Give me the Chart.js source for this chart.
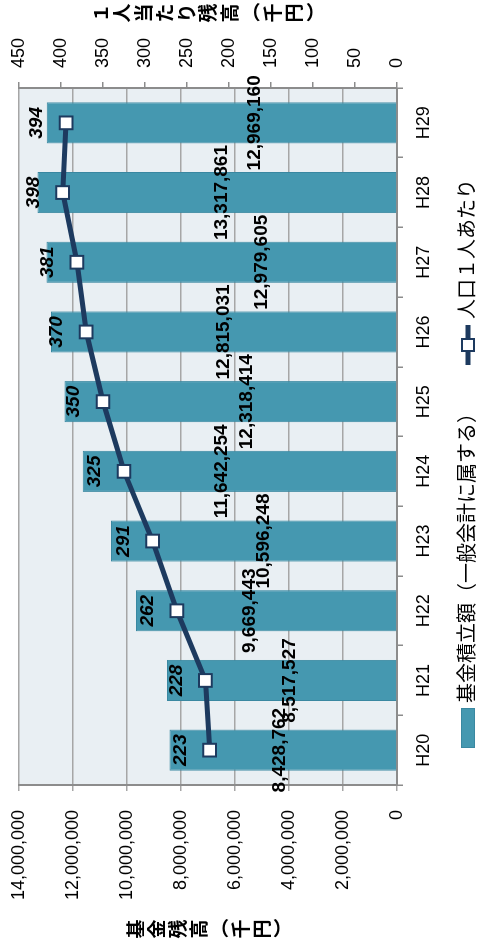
<!DOCTYPE html>
<html>
<head>
<meta charset="utf-8">
<script src="https://cdn.jsdelivr.net/npm/chart.js@4/dist/chart.umd.min.js"></script>
<style>
html, body { margin: 0; padding: 0; background: #fff; overflow: hidden; }
#wrap {
  position: absolute; left: 0; top: 0;
  width: 949px; height: 479px;
  transform-origin: 0 0;
  transform: translateY(949px) rotate(-90deg);
}
</style>
</head>
<body>
<div id="wrap"><canvas id="myChart" width="949" height="479"></canvas></div>
<script>
// data (千円)
var years = ['H20', 'H21', 'H22', 'H23', 'H24', 'H25', 'H26', 'H27', 'H28', 'H29'];
var fundBalance = [8428762, 8517527, 9669443, 10596248, 11642254, 12318414, 12815031, 12979605, 13317861, 12969160];
var perCapita = [223, 228, 262, 291, 325, 350, 370, 381, 398, 394];
// where the balance labels sit on the left axis (they were moved by hand in the original)
var balanceLabelAt = [4350000, 3980000, 5440000, 4930000, 6480000, 5560000, 6410000, 5000000, 6500000, 5260000];

var leftTitle = '基金残高（千円）';
var rightTitle = '１人当たり残高（千円）';

var BAR = '#4598b0';
var BAR_EDGE = '#3a88a1';
var NAVY = '#1d3a5f';
var LATIN = "'Liberation Sans', Arial, sans-serif";
var CJK = "'Noto Sans CJK JP', 'Noto Sans', sans-serif";

Chart.defaults.font.family = LATIN;
Chart.defaults.color = '#000';

function fmt(v) { return v.toLocaleString('en-US'); }

var plotBg = {
  id: 'plotBg',
  beforeDraw: function (chart) {
    var a = chart.chartArea, c = chart.ctx;
    c.save();
    c.fillStyle = '#e9eff3';
    c.fillRect(a.left, a.top, a.right - a.left, a.bottom - a.top);
    c.restore();
  }
};

function stacked(c, text, cx, cy, step) {
  var chars = Array.from(text);
  var start = cy - step * chars.length / 2 + step / 2;
  chars.forEach(function (ch, i) {
    c.save();
    c.translate(cx, start + i * step);
    if ('（）'.indexOf(ch) >= 0) c.rotate(Math.PI / 2);
    c.fillText(ch, 0, 0);
    c.restore();
  });
}

var extras = {
  id: 'extras',
  afterDatasetsDraw: function (chart) {
    var c = chart.ctx;
    var xs = chart.scales.x, ys = chart.scales.y;
    c.save();
    c.fillStyle = '#000';
    c.textAlign = 'center';
    c.textBaseline = 'middle';
    // bar values
    c.font = 'bold 19px ' + LATIN;
    fundBalance.forEach(function (v, i) {
      c.fillText(fmt(v), xs.getPixelForValue(i), ys.getPixelForValue(balanceLabelAt[i]));
    });
    // per-capita values above the points
    c.font = 'italic bold 19px ' + LATIN;
    var pts = chart.getDatasetMeta(0).data;
    pts.forEach(function (p, i) {
      c.fillText(String(perCapita[i]), p.x, p.y - 29);
    });
    c.restore();
  },
  afterDraw: function (chart) {
    var c = chart.ctx, a = chart.chartArea;
    var mid = (a.top + a.bottom) / 2;
    c.save();
    c.fillStyle = '#000';
    c.textAlign = 'center';
    c.textBaseline = 'middle';
    c.font = 'bold 19px ' + CJK;
    stacked(c, leftTitle, 20, mid + 1, 21);
    stacked(c, rightTitle, 936, mid, 21.5);

    // legend
    var labels = [chart.data.datasets[1].label, chart.data.datasets[0].label];
    c.font = '20px ' + CJK;
    var w1 = c.measureText(labels[0]).width, w2 = c.measureText(labels[1]).width;
    var total = 40 + 5 + w1 + 38 + 40 + 6 + w2;
    var x = chart.width / 2 + 11 - total / 2;
    var y = chart.height - 11;
    c.fillStyle = BAR;
    c.fillRect(x, y - 7, 40, 14);
    c.strokeStyle = BAR_EDGE;
    c.lineWidth = 1;
    c.strokeRect(x + 0.5, y - 6.5, 39, 13);
    c.fillStyle = '#000';
    c.textAlign = 'left';
    c.fillText(labels[0], x + 45, y - 2);
    x += 45 + w1 + 38;
    c.strokeStyle = NAVY;
    c.lineWidth = 5;
    c.beginPath();
    c.moveTo(x, y);
    c.lineTo(x + 40, y);
    c.stroke();
    c.fillStyle = '#fff';
    c.lineWidth = 2;
    c.fillRect(x + 14, y - 6, 12, 12);
    c.strokeRect(x + 14, y - 6, 12, 12);
    c.fillStyle = '#000';
    c.fillText(labels[1], x + 46, y - 2);
    c.restore();
  }
};

// vertical axes: fixed width, and no extra room above/below the plot for the tick padding
function fixAxis(width) {
  return function (s) {
    s.width = width;
    s.paddingTop = 0;
    s.paddingBottom = 0;
  };
}

var ctx = document.getElementById('myChart').getContext('2d');
var myChart = new Chart(ctx, {
  data: {
    labels: years,
    datasets: [{
      type: 'line',
      label: '人口１人あたり',
      data: perCapita,
      yAxisID: 'y2',
      order: 0,
      borderColor: NAVY,
      borderWidth: 5,
      tension: 0,
      pointStyle: 'rect',
      pointRadius: 9,
      pointBackgroundColor: '#fff',
      pointBorderColor: NAVY,
      pointBorderWidth: 2
    }, {
      type: 'bar',
      label: '基金積立額（一般会計に属する）',
      data: fundBalance,
      yAxisID: 'y',
      order: 1,
      backgroundColor: BAR,
      borderColor: BAR_EDGE,
      borderWidth: 1,
      barPercentage: 0.59,
      categoryPercentage: 1
    }]
  },
  options: {
    responsive: false,
    animation: false,
    devicePixelRatio: 1,
    layout: { padding: { top: 19, bottom: 40, left: 0, right: 0 } },
    plugins: {
      legend: { display: false },
      tooltip: { enabled: false }
    },
    scales: {
      x: {
        grid: { drawOnChartArea: false, drawTicks: true, tickLength: 6, color: '#8c8c8c', lineWidth: 1.5 },
        border: { color: '#8c8c8c', width: 2 },
        ticks: { font: { size: 18 }, padding: 10, maxRotation: 0, autoSkip: false },
        afterFit: function (s) { s.height = 42; }
      },
      y: {
        position: 'left',
        min: 0,
        max: 14000000,
        ticks: { stepSize: 2000000, padding: 19, font: { size: 18 }, callback: function (v) { return fmt(v); } },
        grid: { color: '#a6a6a6', lineWidth: 1.5, tickLength: 6 },
        border: { color: '#8c8c8c', width: 2 },
        afterFit: fixAxis(164)
      },
      y2: {
        position: 'right',
        min: 0,
        max: 450,
        ticks: { stepSize: 50, padding: 14, font: { size: 18 } },
        grid: { drawOnChartArea: false, color: '#8c8c8c', lineWidth: 1.5, tickLength: 6 },
        border: { color: '#8c8c8c', width: 2 },
        afterFit: fixAxis(88)
      }
    }
  },
  plugins: [plotBg, extras]
});
</script>
</body>
</html>
